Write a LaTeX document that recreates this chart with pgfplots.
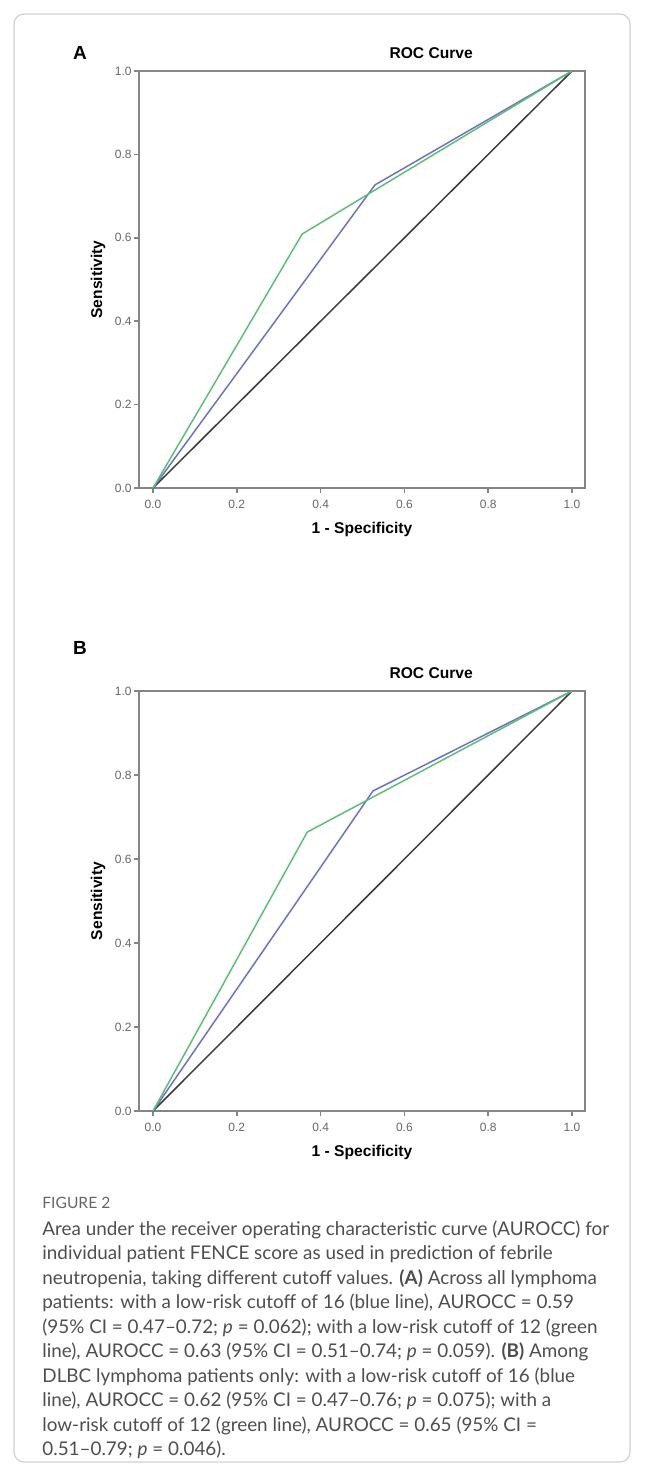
\documentclass[border=0pt]{standalone}
\usepackage{fontspec}
\setmainfont{Liberation Sans}
\newfontfamily\capfont{Lato}
\usepackage{pgfplots}
\pgfplotsset{compat=1.18}

\definecolor{rocblue}{HTML}{6E72C4}
\definecolor{rocgreen}{HTML}{5CBF78}
\definecolor{diag}{HTML}{3A3A3A}
\definecolor{axisgray}{HTML}{858585}
\definecolor{capgray}{HTML}{4E4E4E}

% SPSS-like ROC panel, 1px of the reference = 0.5pt
\pgfplotsset{rocpanel/.style={
    scale only axis, width=223pt,
    xmin=-0.0334, xmax=1.031, ymin=0, ymax=1,
    axis line style={axisgray, line width=0.75pt},
    xtick={0,0.2,0.4,0.6,0.8,1.0},
    ytick={0,0.2,0.4,0.6,0.8,1.0},
    tick align=outside, tick pos=left,
    major tick length=2.5pt,
    tick style={axisgray, line width=0.75pt},
    ticklabel style={font=\fontsize{6}{7}\selectfont, text=black!60},
    xticklabel style={inner sep=1pt, yshift=-2.5pt},
    yticklabel style={inner sep=1pt},
    /pgf/number format/.cd, fixed, fixed zerofill, precision=1, assume math mode=true,
    /pgfplots/.cd,
    title={ROC Curve},
    title style={font=\bfseries\fontsize{7.8}{9}\selectfont, at={(axis description cs:0.655,1)}, anchor=center, yshift=3pt},
    xlabel={1 - Specificity},
    xlabel style={font=\bfseries\fontsize{7.8}{9}\selectfont, at={(axis description cs:0.5,0)}, anchor=center, yshift=-20.5pt},
    ylabel={Sensitivity},
    ylabel style={font=\bfseries\fontsize{7.8}{9}\selectfont, at={(axis description cs:0,0.5)}, anchor=center, rotate=0},
    every axis plot/.append style={line width=0.75pt},
}}

\begin{document}
\begin{tikzpicture}
\path[use as bounding box] (0,0) rectangle (322pt,-736pt);
\draw[black!18, line width=0.6pt, rounded corners=5pt] (7pt,-7pt) rectangle (315pt,-731pt);

% panel A
\begin{axis}[rocpanel, height=208.5pt, at={(69.5pt,-244pt)}, anchor=south west,
    ylabel style={yshift=20.5pt}]
\addplot[diag] coordinates {(0,0) (1,1)};
\addplot[rocblue] coordinates {(0,0) (0.53,0.727) (1,1)};
\addplot[rocgreen] coordinates {(0,0) (0.356,0.609) (1,1)};
\end{axis}

% panel B
\begin{axis}[rocpanel, height=210pt, at={(69.5pt,-555.5pt)}, anchor=south west,
    ylabel style={yshift=20.5pt}]
\addplot[diag] coordinates {(0,0) (1,1)};
\addplot[rocblue] coordinates {(0,0) (0.525,0.762) (1,1)};
\addplot[rocgreen] coordinates {(0,0) (0.368,0.664) (1,1)};
\end{axis}

\begin{scope}[x=0.5pt, y=-0.5pt]
\node[font=\bfseries\fontsize{9.5}{11}\selectfont] at (80,53) {A};
\node[font=\bfseries\fontsize{9.5}{11}\selectfont] at (80,648) {B};

\node[anchor=base west, font=\capfont\fontsize{7.8}{9}\selectfont, text=black!60, inner sep=0pt] at (42,1208) {FIGURE 2};
\begin{scope}[every node/.style={anchor=base west, inner sep=0pt, text=capgray, font=\capfont\fontsize{9.43}{11}\selectfont}]
\node at (42,1235) {Area under the receiver operating characteristic curve (AUROCC) for};
\node at (42,1259.5) {individual patient FENCE score as used in prediction of febrile};
\node at (42,1284) {neutropenia, taking different cutoff values. \textbf{(A)} Across all lymphoma};
\node at (42,1308.5) {patients: with a low-risk cutoff of 16 (blue line), AUROCC = 0.59};
\node at (42,1333) {(95\% CI = 0.47–0.72; \textit{p} = 0.062); with a low-risk cutoff of 12 (green};
\node at (42,1357.5) {line), AUROCC = 0.63 (95\% CI = 0.51–0.74; \textit{p} = 0.059). \textbf{(B)} Among};
\node at (42,1382) {DLBC lymphoma patients only: with a low-risk cutoff of 16 (blue};
\node at (42,1406.5) {line), AUROCC = 0.62 (95\% CI = 0.47–0.76; \textit{p} = 0.075); with a};
\node at (42,1431) {low-risk cutoff of 12 (green line), AUROCC = 0.65 (95\% CI =};
\node at (42,1455.5) {0.51–0.79; \textit{p} = 0.046).};
\end{scope}
\end{scope}
\end{tikzpicture}
\end{document}
